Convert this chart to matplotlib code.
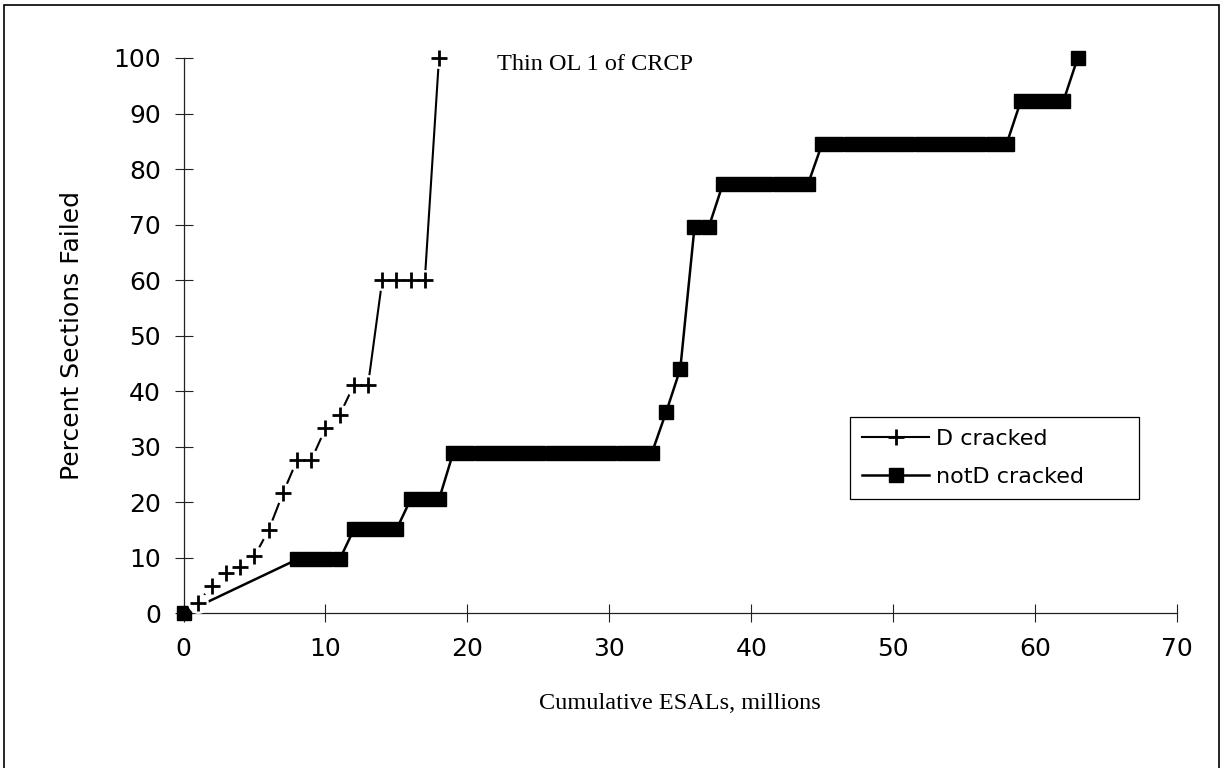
import matplotlib
matplotlib.use("Agg")
from matplotlib import pyplot as plt
from matplotlib.lines import Line2D
from matplotlib.patches import Rectangle

# D cracked sections
d_x = [1, 2, 3, 4, 5, 6, 7, 8, 9, 10, 11, 12, 13, 14, 15, 16, 17, 18]
d_y = [1.9, 5.0, 7.2, 8.4, 10.3, 15.0, 21.6, 27.6, 27.6, 33.3, 35.7,
       41.1, 41.1, 60.0, 60.0, 60.0, 60.0, 100.0]

# not D cracked sections
nd_x = [0, 8, 9, 10, 11, 12, 13, 14, 15, 16, 17, 18,
        19, 20, 21, 22, 23, 24, 25, 26, 27, 28, 29, 30, 31, 32, 33,
        34, 35, 36, 37, 38, 39, 40, 41, 42, 43, 44,
        45, 46, 47, 48, 49, 50, 51, 52, 53, 54, 55, 56, 57, 58,
        59, 60, 61, 62, 63]
nd_y = [0, 9.7, 9.7, 9.7, 9.7, 15.1, 15.1, 15.1, 15.1, 20.5, 20.5, 20.5,
        28.9, 28.9, 28.9, 28.9, 28.9, 28.9, 28.9, 28.9, 28.9, 28.9, 28.9,
        28.9, 28.9, 28.9, 28.9,
        36.2, 44.0, 69.5, 69.5, 77.3, 77.3, 77.3, 77.3, 77.3, 77.3, 77.3,
        84.6, 84.6, 84.6, 84.6, 84.6, 84.6, 84.6, 84.6, 84.6, 84.6, 84.6,
        84.6, 84.6, 84.6,
        92.3, 92.3, 92.3, 92.3, 100.0]

x_ticks = [0, 10, 20, 30, 40, 50, 60, 70]
y_ticks = [0, 10, 20, 30, 40, 50, 60, 70, 80, 90, 100]

fig = plt.figure(figsize=(12.21, 7.68), dpi=100)
ax = fig.add_axes([0.1503, 0.2014, 0.8137, 0.7231])

# not D cracked: solid line with filled squares
ax.plot(nd_x, nd_y, color='black', linewidth=1.8, marker='s', markersize=10,
        markerfacecolor='black', markeredgecolor='black', clip_on=False, zorder=3)

# D cracked: line with white clearing round each '+' (gives the broken look)
ax.plot(d_x, d_y, color='black', linewidth=1.5, clip_on=False, zorder=4)
ax.plot(d_x, d_y, linestyle='none', marker='o', markersize=15,
        markerfacecolor='white', markeredgecolor='none', clip_on=False, zorder=5)
ax.plot(d_x, d_y, linestyle='none', marker='+', markersize=11, markeredgewidth=2.0,
        color='black', clip_on=False, zorder=6)

ax.set_xlim(0, 70)
ax.set_ylim(0, 100)
ax.set_xticks(x_ticks)
ax.set_yticks(y_ticks)
ax.set_xticklabels([str(t) for t in x_ticks])
ax.set_yticklabels([str(t) for t in y_ticks])

for side in ['top', 'right']:
    ax.spines[side].set_visible(False)
for side in ['left', 'bottom']:
    ax.spines[side].set_linewidth(0.9)
    ax.spines[side].set_color('#222222')

ax.tick_params(axis='both', direction='inout', length=12.5, width=0.8,
               color='#222222', labelsize=18)
ax.tick_params(axis='y', pad=10)
ax.tick_params(axis='x', pad=11)

ax.set_ylabel('Percent Sections Failed', fontsize=18)
ax.yaxis.set_label_coords(-0.100, 0.5)
ax.set_xlabel('Cumulative ESALs, millions', fontsize=17.5, family='Liberation Serif')
ax.xaxis.set_label_coords(0.5, -0.1435)

fig.text(497 / 1221, 1 - 64 / 768, 'Thin OL 1 of CRCP', ha='left', va='center',
         fontsize=17.5, family='Liberation Serif')

handles = [
    Line2D([], [], color='black', linewidth=1.5, marker='+', markersize=11,
           markeredgewidth=2.0),
    Line2D([], [], color='black', linewidth=1.8, marker='s', markersize=10),
]
leg = ax.legend(handles, ['D cracked', 'notD cracked'], loc='upper left',
                bbox_to_anchor=(0.671, 0.19, 0.291, 0.1635), mode='expand',
                borderaxespad=0, fontsize=16, handlelength=3.0, handletextpad=0.3,
                borderpad=0.55, labelspacing=0.8, fancybox=False,
                framealpha=1, edgecolor='black')
leg.get_frame().set_linewidth(0.9)

# outer chart frame
fig.add_artist(Rectangle((4 / 1221, -0.05), (1219 - 4) / 1221, 1.05 - 5 / 768,
                         transform=fig.transFigure, fill=False,
                         edgecolor='black', linewidth=1.2))

fig.savefig('out.png', dpi=100)
